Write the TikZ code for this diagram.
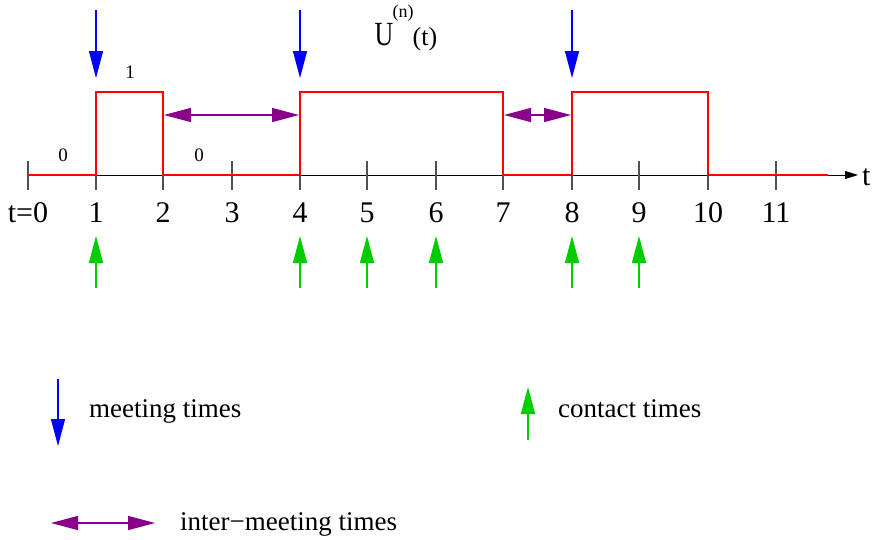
\documentclass[tikz,border=0pt]{standalone}
\usepackage{fontspec}
\setmainfont{Liberation Serif}
\usetikzlibrary{arrows.meta}
\definecolor{mblue}{RGB}{0,0,255}
\definecolor{mgreen}{RGB}{0,205,0}
\definecolor{mpurple}{RGB}{139,0,139}
\definecolor{mred}{RGB}{255,0,0}
\definecolor{tickgray}{RGB}{80,80,80}
\tikzset{
  meetarrow/.style={draw=mblue, line width=1.3pt, -{Triangle[length=27pt,width=14pt]}},
  contactarrow/.style={draw=mgreen, line width=1.3pt, -{Triangle[length=27pt,width=14pt]}},
  interarrow/.style={draw=mpurple, line width=1.3pt, {Triangle[length=27pt,width=14pt]}-{Triangle[length=27pt,width=14pt]}},
  axisline/.style={draw=black, line width=0.9pt, -{Triangle[length=13pt,width=8pt]}},
  tickline/.style={draw=tickgray, line width=1.2pt},
  pulse/.style={draw=mred, line width=1.4pt},
  axislbl/.style={font=\fontsize{30}{36}\selectfont, anchor=base, inner sep=0pt},
  smalllbl/.style={font=\fontsize{19}{23}\selectfont, anchor=base, inner sep=0pt},
  legendlbl/.style={font=\fontsize{27}{32}\selectfont, anchor=base west, inner sep=0pt}
}
\begin{document}
\begin{tikzpicture}[x=1pt,y=-1pt]
\useasboundingbox (0,0) rectangle (873,539);
% axis
\coordinate (axstart) at (28,175);
\coordinate (axend) at (858,175);
\draw[axisline] (axstart) -- (axend);
\node[axislbl, anchor=base west] (tlbl) at (862,185) {t};
% ticks and labels
\foreach \x/\lab [count=\i] in {28/t=0,96/1,163/2,232/3,300/4,367/5,436/6,503/7,572/8,639/9,708/10,776/11}{
  \coordinate (tt\i) at (\x,161);
  \coordinate (tb\i) at (\x,190);
  \draw[tickline] (tt\i) -- (tb\i);
  \node[axislbl] (lab\i) at (\x,222) {\lab};
}
% pulse
\draw[pulse] (28,175) -- (96,175) -- (96,92) -- (163,92) -- (163,175) -- (300,175) -- (300,92)
  -- (503,92) -- (503,175) -- (572,175) -- (572,92) -- (708,92) -- (708,175) -- (828,175);
% small level labels
\node[smalllbl] (z1) at (63,161) {0};
\node[smalllbl] (o1) at (130,78) {1};
\node[smalllbl] (z2) at (199,161) {0};
% title
\node[anchor=base, inner sep=0pt, font=\fontsize{26}{30}\selectfont] (U) at (384,45) {\scalebox{1}[1.3]{U}};
\node[anchor=base, inner sep=0pt, font=\fontsize{18}{22}\selectfont] (Un) at (403,17) {(n)};
\node[anchor=base, inner sep=0pt, font=\fontsize{26}{30}\selectfont] (Ut) at (425,45) {(t)};
% meeting arrows
\foreach \x [count=\i] in {96,300,572}{
  \coordinate (ms\i) at (\x,10);
  \coordinate (me\i) at (\x,78);
  \draw[meetarrow] (ms\i) -- (me\i);
}
% contact arrows
\foreach \x [count=\i] in {96,300,367,436,572,639}{
  \coordinate (cs\i) at (\x,288);
  \coordinate (ce\i) at (\x,236);
  \draw[contactarrow] (cs\i) -- (ce\i);
}
% inter-meeting arrows
\coordinate (ia1) at (164,115);
\coordinate (ib1) at (299,115);
\coordinate (ia2) at (504,115);
\coordinate (ib2) at (571,115);
\draw[interarrow] (ia1) -- (ib1);
\draw[interarrow] (ia2) -- (ib2);
% legend
\coordinate (lms) at (58,379);
\coordinate (lme) at (58,446);
\draw[meetarrow] (lms) -- (lme);
\node[legendlbl] (lm) at (89,417) {meeting times};
\coordinate (lcs) at (528,440);
\coordinate (lce) at (528,387);
\draw[contactarrow] (lcs) -- (lce);
\node[legendlbl] (lc) at (558,417) {contact times};
\coordinate (lis) at (51,523);
\coordinate (lie) at (155,523);
\draw[interarrow] (lis) -- (lie);
\node[legendlbl] (li) at (180,530) {inter\textminus meeting times};
\end{tikzpicture}
\end{document}
